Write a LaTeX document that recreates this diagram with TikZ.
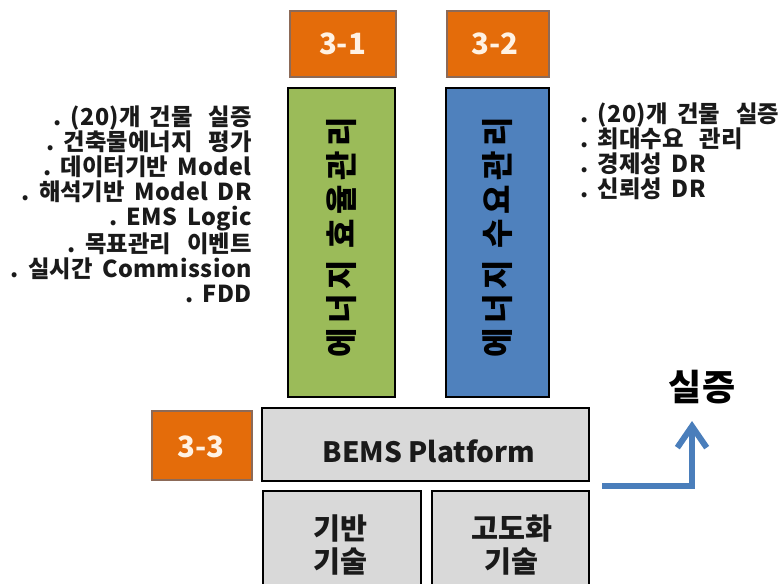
\documentclass[tikz,border=0pt]{standalone}
\usepackage{fontspec}
\setmainfont{Noto Sans CJK KR}
\usetikzlibrary{fit,arrows.meta}
\definecolor{tagfill}{HTML}{E46C0A}
\definecolor{tagline}{HTML}{8C6A58}
\definecolor{tagtext}{HTML}{FFF2E4}
\definecolor{effgreen}{HTML}{9BBB59}
\definecolor{dmdblue}{HTML}{4F81BD}
\definecolor{platgray}{HTML}{D9D9D9}
\definecolor{flowblue}{HTML}{4A7EBB}
\definecolor{notetext}{HTML}{1A1A1A}
% Latin runs inside the Korean notes, set a little larger
\newcommand\lt[1]{{\bfseries\fontsize{17.5}{18.75}\selectfont\addfontfeatures{LetterSpace=2}#1}}
% bullet dot with its gap
\newcommand\dt{\lt{.}\hspace{7pt}}
% wide gap between Korean words
\newcommand\kgap{\hspace{12pt}}
% ordinary gap between words
\newcommand\wgap{\hspace{7pt}}
\begin{document}
\begin{tikzpicture}[x=0.75pt,y=-0.75pt,
  tag/.style={draw=tagline, line width=0.9pt, fill=tagfill, inner sep=0pt},
  tagtext/.style={inner sep=0pt, text=tagtext,
    font=\bfseries\fontsize{22}{24}\selectfont},
  pillar/.style={draw=black, line width=2pt, inner sep=0pt},
  pillartext/.style={rotate=90, inner sep=0pt, text=black,
    font=\bfseries\fontsize{24}{26}\selectfont\addfontfeatures{LetterSpace=14}},
  basebox/.style={draw=black, line width=2pt, fill=platgray, inner sep=0pt},
  basetext/.style={align=center, inner sep=0pt, text=notetext,
    font=\bfseries\fontsize{22}{25}\selectfont},
  note/.style={inner sep=0pt, text=notetext,
    font=\bfseries\fontsize{17.5}{18.75}\selectfont},
  flow/.style={draw=flowblue, line width=4.5pt,
    -{Straight Barb[length=16pt,width=22pt]}}
]
\useasboundingbox (0,0) rectangle (784,583);
\clip (0,0) rectangle (784,583);

% numbered tags
\node[tag, fit={(290,11)(396,77)}] (t31) {};
\node[tagtext] at (342.5,44) (t31text) {3-1};
\node[tag, fit={(447,11)(549,77)}] (t32) {};
\node[tagtext] at (495,44) (t32text) {3-2};
\node[tag, fit={(152,411)(252,480)}] (t33) {};
\node[tagtext] at (201,447) (t33text) {3-3};

% the two management pillars
\node[pillar, fill=effgreen, fit={(288,88)(395,397)}] (eff) {};
\node[pillartext] at (341.5,237) (efftext) {에너지 효율관리};
\node[pillar, fill=dmdblue, fit={(446,88)(549,397)}] (dmd) {};
\node[pillartext] at (497.5,237) (dmdtext) {에너지 수요관리};

% platform and base technologies
\node[basebox, fit={(262,408)(589,481)}] (bems) {};
\node[inner sep=0pt, font=\bfseries\fontsize{21}{24}\selectfont, text=notetext]
  at (429,451) (bemstext) {BEMS Platform};
\node[basebox, fit={(263,491)(421,620)}] (core) {};
\node[basetext] at (340.5,545) (coretext) {기반\\기술};
\node[basebox, fit={(432,491)(589,620)}] (adv) {};
\node[basetext] at (511.5,545) (advtext) {고도화\\기술};

% side notes
\node[note, align=right, anchor=north east] at (252,106) (effnotes)
  {\dt\lt{(20)}개\wgap 건물\kgap 실증\\
   \dt 건축물에너지\kgap 평가\\
   \dt 데이터기반\wgap\lt{Model}\\
   \dt 해석기반\wgap\lt{Model}\wgap\lt{DR}\\
   \dt\lt{EMS}\wgap\lt{Logic}\\
   \dt 목표관리\kgap 이벤트\\
   \dt 실시간\wgap\lt{Commission}\\
   \dt\lt{FDD}};
\node[note, align=left, anchor=north west] at (580,103) (dmdnotes)
  {\dt\lt{(20)}개\wgap 건물\kgap 실증\\
   \dt 최대수요\kgap 관리\\
   \dt 경제성\wgap\lt{DR}\\
   \dt 신뢰성\wgap\lt{DR}};

% field test arrow
\node[inner sep=0pt, font=\bfseries\fontsize{27}{28}\selectfont, text=black]
  at (702,387) (proof) {실증};
\coordinate (flowstart) at (602,486);
\coordinate (flowbend) at (692,486);
\coordinate (flowend) at (692,421);
\draw[flow] (flowstart) -- (flowbend) -- (flowend);
\end{tikzpicture}
\end{document}
